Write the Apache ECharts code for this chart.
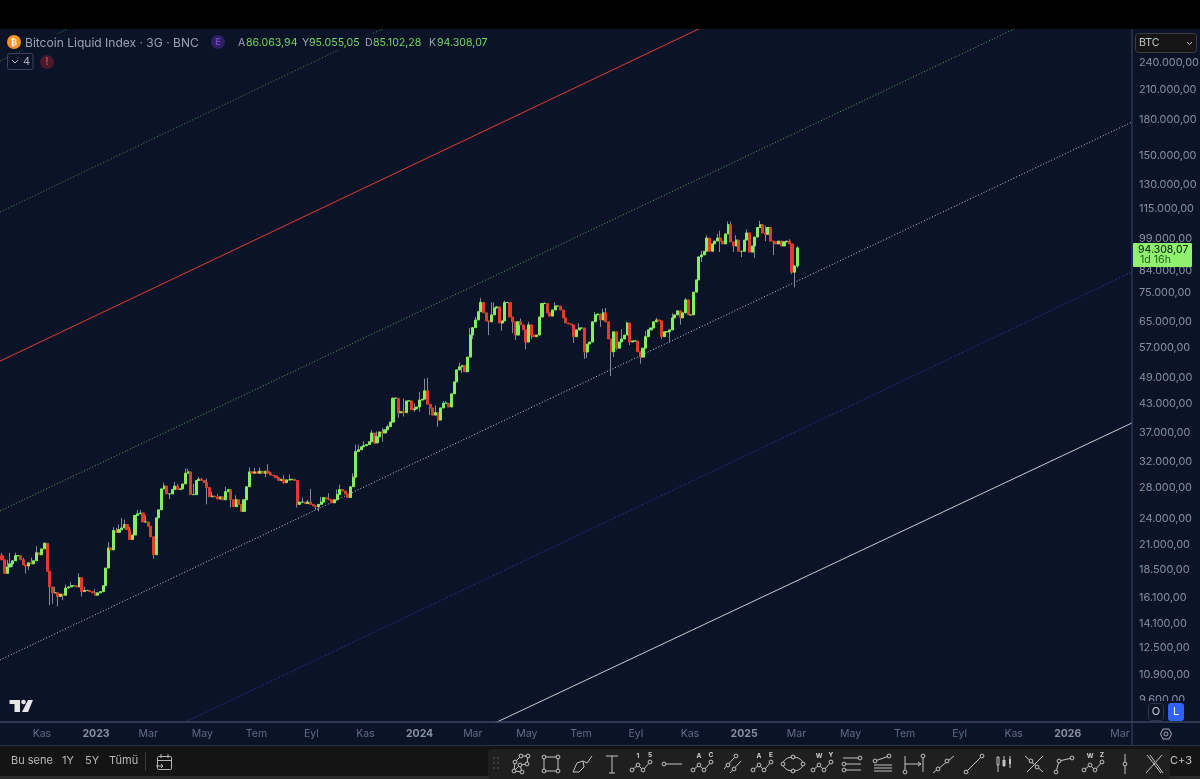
<!DOCTYPE html>
<html>
<head>
<meta charset="utf-8">
<style>html,body{margin:0;padding:0;background:#0a1328;}#c{width:1200px;height:779px;}</style>
<script src="https://cdn.jsdelivr.net/npm/echarts@6/dist/echarts.min.js"></script>
</head>
<body>
<div id="c"></div>
<script>
const firstCandle = '2022-09-17T00:00:00Z';
const stepDays = 3;
const firstOpen = 19900;
const closes = [
19500,18200,18800,19100,19400,19900,19900,19500,19000,18900,19200,19100,19400,20200,20000,20600,21200,18400,17000,16500,
16500,16200,16400,16300,16900,17000,17100,17100,17000,17800,16600,16700,16700,16600,16500,16300,16500,16600,17100,18700,
20700,20500,22600,22400,22700,22900,23300,22700,21600,22100,24400,24600,24700,23600,23600,23100,21900,20000,24100,25100,
27900,28300,27200,27200,27800,28300,27800,27900,28600,30200,30400,27100,27100,29100,29300,29100,28800,28100,26800,26900,
26800,26500,26800,26400,27500,27800,26400,25500,26400,25800,24900,26400,28200,30400,30200,30400,30200,30500,30200,30500,
30200,29900,29800,29500,29100,29300,28800,29200,29200,29300,29100,25800,26100,26100,25900,26100,25800,25600,25500,25800,
26100,26700,26500,26400,26000,26400,27100,27800,27600,27200,26700,28200,29600,33700,34000,34500,34700,34900,35400,37000,
35200,36300,37200,37000,37600,38200,39100,44100,44100,41000,41200,41000,43500,43500,41600,41800,42200,43700,43900,45800,
42800,42000,40500,41000,39500,42000,43000,43000,42200,45100,47900,50900,51700,52000,50400,54300,60700,63000,65500,68300,
71600,67900,65200,64900,67200,69600,70000,64500,65200,71600,71600,66500,64900,60700,64900,63900,62300,58600,63900,60700,
60200,60700,66500,71200,71200,67900,66800,68900,70300,70300,68900,66200,64500,64200,63900,60200,62300,62900,62900,55700,
58000,58600,64900,67200,67500,65500,67900,64900,59500,55800,61700,56800,58600,59500,60700,64500,58600,58900,58900,55800,
54300,56800,60200,62300,62900,64900,65500,65200,60200,61700,61700,62300,66200,67200,68600,66200,67900,72500,67200,67200,
75400,80200,90100,91000,92700,99100,92700,96200,97600,99100,97600,96200,101200,106000,97200,95200,98100,92700,92700,98100,
101700,92300,95200,99600,104500,106000,101700,101000,104500,97600,97200,96200,97600,95200,97200,97600,96200,83400,86063.94,94308.07
];
const highPeaks = [
[0,20200],[2,19500],[3,20200],[5,20200],[8,19700],[11,19700],[13,20900],[16,21300],[20,17000],[24,17200],[26,17400],[29,18200],[31,17000],[35,16800],
[40,21300],[42,23000],[43,22900],[44,23300],[45,24100],[46,23900],[48,23000],[51,25100],[52,25100],[54,24400],[61,28800],[62,27800],[65,28900],[66,28600],
[69,30900],[70,30900],[72,28600],[74,29600],[75,29500],[77,29400],[79,27500],[81,27200],[84,28200],[88,27000],[93,31100],[95,31000],[97,31100],[100,31600],[101,30400],
[104,29600],[106,29900],[108,30000],[113,26700],[115,26400],[116,27900],[120,26800],[123,27300],[126,27800],[127,28500],
[132,30200],[133,34900],[134,34900],[136,35500],[139,37600],[141,37300],[143,38000],[145,38600],[147,44300],[148,44300],[151,44000],[155,43000],[157,45500],
[159,48700],[160,48900],[163,42500],[166,43500],[167,43500],[172,52800],[176,63000],[178,66500],[180,73200],[182,67500],[184,71600],[185,71600],[189,72200],[191,70000],
[195,66000],[198,64900],[204,71600],[208,71600],[212,66500],[217,64500],[223,68200],[226,69300],[227,69600],[233,62500],[235,64900],[242,62000],[246,66200],[252,67800],[257,73200],[263,93000],[265,100500],[269,101200],[270,102900],
[273,107700],[274,107700],[276,100500],[280,103500],[285,108100],[287,105500],[289,99500],[293,97800],[296,98500],[299,95055.05]
];
const lowPeaks = [
[4,18800],[9,18200],[10,18500],[18,15500],[19,15600],[21,15400],[23,15900],[30,16200],[57,19600],[63,26500],[68,27900],[77,25800],[86,25400],[99,29600],[106,28600],
[111,25400],[118,25100],[119,24900],[126,26500],[140,35000],[143,35400],[146,38400],[149,40000],[151,40200],[155,41200],[157,41200],[161,40500],
[164,38200],[173,50100],[177,59500],[183,60700],[188,62000],[192,61300],[193,59200],[197,56500],[199,59500],[215,58300],[219,53800],
[220,54000],[225,63200],[229,49300],[230,54300],[231,56300],[236,57700],[240,52500],[248,59500],[251,58300],[255,64000],[263,87800],
[270,92300],[275,92300],[278,90000],[283,89600],[287,97600],[290,90900],[297,82600],[298,77200],[299,85102.28]
];
const priceTicks = [240000,210000,180000,150000,130000,115000,99000,84000,75000,65000,57000,49000,43000,37000,32000,28000,24000,21000,18500,16100,14100,12500,10900,9600];
const timeTicks = ['2022-11-01','2023-01-01','2023-03-01','2023-05-01','2023-07-01','2023-09-01','2023-11-01','2024-01-01','2024-03-01','2024-05-01','2024-07-01','2024-09-01','2024-11-01','2025-01-01','2025-03-01','2025-05-01','2025-07-01','2025-09-01','2025-11-01','2026-01-01','2026-03-01'];
const timeLabels = ['Kas','2023','Mar','May','Tem','Eyl','Kas','2024','Mar','May','Tem','Eyl','Kas','2025','Mar','May','Tem','Eyl','Kas','2026','Mar'];
const axisStart = '2022-09-14T18:00:00Z';
const axisEnd = '2026-03-14T12:00:00Z';
const priceMin = 8590, priceMax = 284980;
const channelDates = [axisStart, axisEnd];
const channelRed = [53200, 807000];
const channelGreenTop = [242400, 3675000];
const channelGreenHigh = [113000, 1748000];
const channelGreen = [24960, 378200];
const channelWhiteDot = [11750, 178100];
const channelBlue = [5505, 83500];
const channelWhite = [2632, 38930];

const ms = s => Date.parse(s.length === 10 ? s + 'T00:00:00Z' : s);
const tickMs = timeTicks.map(ms);
const hiMap = new Map(highPeaks), loMap = new Map(lowPeaks);
const t0 = ms(firstCandle);
const wickData = [], bodyData = [];
closes.forEach((c, i) => {
  const o = i ? closes[i - 1] : firstOpen;
  const t = t0 + i * stepDays * 86400000;
  const top = Math.max(o, c), bot = Math.min(o, c);
  const h = Math.max(hiMap.get(i) || top, top), l = Math.min(loMap.get(i) || bot, bot);
  wickData.push([t, o, c, l, h]);
  bodyData.push([t, o, c, bot, top]);
});
function fmtPrice(v) {
  return String(Math.round(v)).replace(/\B(?=(\d{3})+$)/g, '.') + ',00';
}
function channel(vals, color, type, width) {
  return {
    type: 'line', data: channelDates.map((d, i) => [ms(d), vals[i]]), showSymbol: false, symbol: 'none', silent: true,
    clip: true, z: 1, lineStyle: { color, width: width || 1, type: type || 'solid' }
  };
}

const FONT = 'Inter, "Noto Sans", sans-serif';
const G = [];
const Z = 100;
function rect(x, y, w, h, fill, stroke, r, z) {
  G.push({ type: 'rect', silent: true, z: z || Z, shape: { x, y, width: w, height: h, r: r || 0 }, style: { fill: fill || 'transparent', stroke: stroke || null, lineWidth: 1 } });
}
function text(x, y, s, fill, size, opt) {
  opt = opt || {};
  G.push({ type: 'text', silent: true, z: Z + 1, x, y, style: { text: s, fill, font: (opt.weight || 400) + ' ' + size + 'px ' + (opt.family || FONT), textAlign: opt.align || 'left', textVerticalAlign: 'middle' } });
}
function poly(pts, color, lw) {
  G.push({ type: 'polyline', silent: true, z: Z, shape: { points: pts }, style: { stroke: color, fill: null, lineWidth: lw || 1 } });
}
function circ(cx, cy, r, fill, stroke) {
  G.push({ type: 'circle', silent: true, z: Z, shape: { cx, cy, r }, style: { fill: fill || 'transparent', stroke: stroke || null, lineWidth: 1 } });
}
const NAVY = '#0a1328', GRID = '#3a4763', BAR = '#141414', TOOL = '#1f1f1f', IC = '#c4c4c4';

// chrome
rect(0, 0, 1200, 29, '#000000');
rect(0, 34, 492, 16, NAVY, null, 0, 50);
rect(0, 746, 1200, 33, BAR);
rect(0, 776, 1200, 3, '#2a2a2a');
rect(488, 749, 682, 30, TOOL, null, 4);
poly([[0, 722], [1200, 722]], GRID, 1.5);
poly([[1132, 29], [1132, 745]], GRID, 1);
poly([[0, 745.5], [1200, 745.5]], '#28334b', 1);

// legend
circ(14, 42, 7, '#f7931a');
text(14, 42.5, '₿', '#ffffff', 9, { align: 'center', weight: 700, family: '"DejaVu Sans"' });
text(25, 43, 'Bitcoin Liquid Index · 3G · BNC', '#9aa1b0', 12.05);
circ(218, 42, 7, '#2e1f63');
text(218, 42.5, 'E', '#6a44b8', 9, { align: 'center', weight: 700 });
[['A', 238, '86.063,94', 246], ['Y', 302, '95.055,05', 309], ['D', 365, '85.102,28', 373], ['K', 429, '94.308,07', 437]].forEach(r => {
  text(r[1], 43, r[0], '#9aa1b0', 10.6);
  text(r[3], 43, r[2], '#74d95c', 10.6);
});
rect(7.5, 53.5, 25.5, 16, NAVY, '#39445e', 2);
poly([[12, 60], [15, 63], [18, 60]], '#b8bdc8', 1);
text(23, 62, '4', '#a8aebb', 11);
circ(47, 62, 7, '#4a1a2c');
text(47, 62, '!', '#d0404a', 10, { align: 'center', weight: 700 });

// tradingview mark
G.push({ type: 'polygon', silent: true, z: Z, shape: { points: [[9.5, 700], [20, 700], [20, 712], [14.5, 712], [14.5, 704], [9.5, 704]] }, style: { fill: '#e6e6e6' } });
circ(23.5, 702, 2.3, '#e6e6e6');
G.push({ type: 'polygon', silent: true, z: Z, shape: { points: [[28, 700], [33, 700], [28, 712], [22, 712]] }, style: { fill: '#e6e6e6' } });

// right-hand boxes
rect(1135.5, 33.5, 61, 19, '#151515', '#3c3c3c', 3);
text(1139, 43, 'BTC', '#c4c7cc', 10.6);
poly([[1187, 42], [1189.5, 44.5], [1192, 42]], '#c8c8c8', 1);
rect(1133, 243, 59, 24, '#8ff16d', null, 1);
text(1138, 249.5, '94.308,07', '#0f3311', 10.3, { weight: 500 });
text(1140, 260, '1d 16h', '#1d5a1c', 10.6);
rect(1133, 701, 66, 21, NAVY, null, 0, 90);
rect(1148.5, 703.5, 15, 17, '#0d1526', '#2b3650', 3);
text(1156, 712, 'O', '#c8ccd4', 11, { align: 'center' });
rect(1168, 703, 16, 18, '#2f62f5', null, 3);
text(1176, 712, 'L', '#ffffff', 11, { align: 'center' });
G.push({ type: 'polygon', silent: true, z: Z, shape: { points: [[1160.5, 734], [1163, 729], [1169, 729], [1171.5, 734], [1169, 739], [1163, 739]] }, style: { stroke: '#a8adb8', fill: null, lineWidth: 1 } });
circ(1166, 734, 2, null, '#a8adb8');

// range bar
text(11, 761, 'Bu sene', '#b4b7bc', 11);
text(62, 761, '1Y', '#b4b7bc', 11);
text(85, 761, '5Y', '#b4b7bc', 11);
text(109, 761, 'Tümü', '#b4b7bc', 11);
poly([[145.5, 752], [145.5, 771]], '#3a3a3a', 1);
rect(157.5, 756.5, 14, 13, null, '#b4b7bc', 1);
poly([[157.5, 760.5], [171.5, 760.5]], '#b4b7bc', 1);
poly([[161, 754], [161, 758]], '#b4b7bc', 1);
poly([[168, 754], [168, 758]], '#b4b7bc', 1);
poly([[156, 766], [163, 766]], '#b4b7bc', 1);
poly([[161, 764], [163, 766], [161, 768]], '#b4b7bc', 1);

// drawing toolbar
const Y = 764;
function nodes(cx, pts) { pts.forEach(p => circ(cx + p[0], Y + p[1], 1.9, TOOL, IC)); }
function path(cx, pts) { poly(pts.map(p => [cx + p[0], Y + p[1]]), IC, 1); }
function wave(cx, a, b) {
  const pts = [[-10, 6], [-4, 1], [1, 6], [8, -2]];
  path(cx, pts); nodes(cx, pts);
  text(cx - 4, Y - 8, a, '#d0d0d0', 6.5, { align: 'center', weight: 700 });
  text(cx + 8, Y - 9, b, '#d0d0d0', 6.5, { align: 'center', weight: 700 });
}
for (let a = 0; a < 3; a++) for (let b = 0; b < 2; b++) circ(494 + b * 4, 758 + a * 5, 0.9, '#4c4c4c');
path(521, [[-7, 7], [-6, -2], [0, -8], [7, -8], [6, 0], [-1, 1], [-7, 7], [1, 8], [-1, 1]]);
nodes(521, [[-7, 7], [-6, -2], [0, -8], [7, -8], [6, 0], [-1, 1], [1, 8]]);
path(551, [[-7, -7], [7, -7], [7, 7], [-7, 7], [-7, -7]]);
nodes(551, [[-7, -7], [7, -7], [7, 7], [-7, 7]]);
path(582, [[-9, 8], [-5, -1], [1, -3], [2, 3], [-3, 8], [-9, 8]]);
path(582, [[1, -3], [5, -1], [10, -8]]);
path(612, [[-6, -8], [6, -8]]); path(612, [[0, -8], [0, 9]]); path(612, [[-3, 9], [3, 9]]);
wave(642, '1', '5');
path(673, [[-9, 0], [9, 0]]); nodes(673, [[-9, 0]]);
wave(703, 'A', 'C');
path(733, [[-9, 5], [1, -6]]); path(733, [[-3, 9], [8, -3]]); nodes(733, [[-5, 1], [3, -8], [1, 5]]);
wave(763, 'A', 'E');
G.push({ type: 'ellipse', silent: true, z: Z, shape: { cx: 793, cy: Y, rx: 10, ry: 7 }, style: { stroke: IC, fill: null, lineWidth: 1 } });
nodes(793, [[-10, 0], [0, -7], [10, 0], [0, 7]]);
wave(823, 'W', 'Y');
[-6, 0, 6].forEach(d => path(852, [[-9, d], [9, d]])); nodes(852, [[8, -6], [-8, 0], [-8, 6]]);
[1, 4, 7].forEach(d => path(883, [[-9, d], [9, d]]));
path(883, [[-8, -3], [6, -8]]); nodes(883, [[-8, -3], [6, -8]]);
path(914, [[-9, -8], [-9, 8]]); path(914, [[9, -8], [9, 8]]); path(914, [[-9, 0], [7, 0]]); path(914, [[4, -2], [7, 0], [4, 2]]);
nodes(914, [[-9, 8], [9, -8]]);
path(944, [[-11, 9], [10, -8]]); nodes(944, [[-6, 5], [3, -3]]);
path(974, [[-8, 8], [8, -8]]); nodes(974, [[-8, 8], [8, -8]]);
path(1004, [[-6, -7], [-6, 8]]); path(1004, [[0, -8], [0, 3]]); path(1004, [[6, -8], [6, 4]]);
rect(1002.5, 760, 3, 6, IC); rect(1009, 759, 2, 5, IC); rect(997, 757, 2, 8, TOOL, IC);
path(1034, [[-9, -8], [9, 8]]); path(1034, [[-7, 8], [9, -8]]); path(1034, [[0, 0], [-4, -3]]);
nodes(1034, [[-3, -3], [3, 3]]);
path(1064, [[-8, 8], [-5, -3], [8, -6]]); nodes(1064, [[-8, 8], [-5, -3], [8, -6]]);
wave(1094, 'W', 'Z');
path(1125, [[0, -10], [0, 10]]); nodes(1125, [[0, 0]]);
path(1154, [[-7, -9], [7, 9]]); path(1154, [[-4, -9], [9, 9]]); path(1154, [[8, -9], [-8, 9]]);
text(1181, 761, 'C+3', '#c4c4c4', 11, { align: 'center' });

const chart = echarts.init(document.getElementById('c'), null, { renderer: 'canvas' });
chart.setOption({
  animation: false,
  backgroundColor: NAVY,
  textStyle: { fontFamily: FONT },
  grid: { left: 0, right: 68, top: 29, bottom: 57, containLabel: false, outerBoundsMode: 'none' },
  tooltip: { show: false },
  xAxis: {
    type: 'time', min: ms(axisStart), max: ms(axisEnd), containShape: false,
    axisLine: { show: false }, axisTick: { show: false }, splitLine: { show: false },
    axisLabel: { show: false }
  },
  yAxis: {
    type: 'log', logBase: 10, position: 'right', min: priceMin, max: priceMax,
    axisLine: { show: false }, axisTick: { show: false }, splitLine: { show: false }, minorTick: { show: false },
    axisLabel: {
      customValues: priceTicks, margin: 7, color: '#8790a3', fontSize: 10.9, align: 'left', hideOverlap: false, padding: [3, 0, 0, 0],
      formatter: v => fmtPrice(v)
    }
  },
  series: [
    channel(channelGreenTop, '#4c8f50', [1, 2]),
    channel(channelGreenHigh, '#4c8f50', [1, 2]),
    channel(channelRed, '#e0402f', 'solid'),
    channel(channelGreen, '#5aa65c', [1, 2]),
    channel(channelWhiteDot, '#c6cad2', [1, 2]),
    channel(channelBlue, '#2f46b0', [1, 2]),
    channel(channelWhite, '#c9ccd2', 'solid'),
    {
      type: 'candlestick', data: wickData, encode: { x: 0, y: [1, 2, 3, 4] }, barWidth: 1, z: 3, silent: true, clip: true, large: false, progressive: 0,
      itemStyle: { color: '#858a96', color0: '#858a96', borderColor: '#858a96', borderColor0: '#858a96', borderWidth: 1 }
    },
    {
      type: 'candlestick', data: bodyData, encode: { x: 0, y: [1, 2, 3, 4] }, barWidth: 2.6, z: 4, silent: true, clip: true, large: false, progressive: 0,
      itemStyle: { color: '#84ee5e', color0: '#e03c2c', borderColor: '#84ee5e', borderColor0: '#e03c2c', borderWidth: 1 }
    },
    {
      type: 'scatter', symbol: 'circle', symbolSize: 1, silent: true, clip: false, z: 5,
      itemStyle: { color: 'rgba(0,0,0,0)' },
      data: tickMs.map((t, i) => ({ value: [t, priceMin], name: timeLabels[i] })),
      label: {
        show: true, position: 'bottom', distance: 6, color: '#76829a', fontSize: 10.5, fontFamily: FONT,
        formatter: p => /^\d+$/.test(p.name) ? '{y|' + p.name + '}' : p.name,
        rich: { y: { color: '#a9b0be', fontWeight: 700, fontSize: 10.5, fontFamily: FONT } }
      }
    }
  ],
  graphic: { elements: G }
});
</script>
</body>
</html>
